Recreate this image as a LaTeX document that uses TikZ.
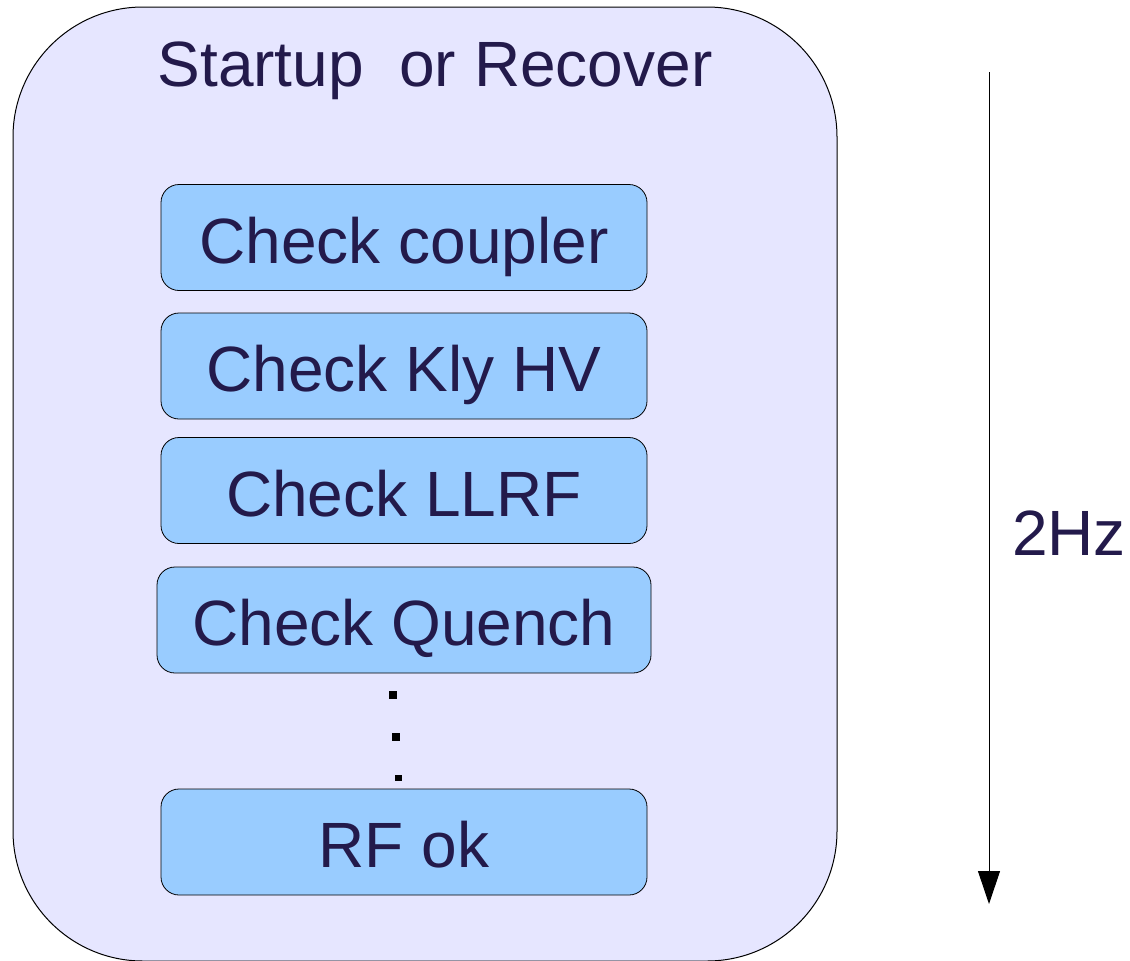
\documentclass[tikz,border=0pt]{standalone}
\usepackage{fontspec}
\setmainfont{Liberation Sans}
\usetikzlibrary{arrows.meta}
\definecolor{outerfill}{HTML}{E6E6FF}
\definecolor{innerfill}{HTML}{99CCFF}
\definecolor{txt}{HTML}{231A4B}
\begin{document}
\begin{tikzpicture}[x=1pt,y=-1pt,
  outerbox/.style={draw=black,line width=1pt,fill=outerfill,rounded corners=130pt,
    minimum width=824pt,minimum height=954pt,inner sep=0pt},
  stepbox/.style={draw=black,line width=0.8pt,fill=innerfill,rounded corners=18pt,
    minimum width=486pt,minimum height=106pt,inner sep=0pt,text=txt,
    font=\fontsize{64}{70}\selectfont,text height=58pt,text depth=7pt},
  bigtext/.style={text=txt,font=\fontsize{64}{70}\selectfont,inner sep=0pt},
  dotmark/.style={fill=black}
]
\useasboundingbox (0,0) rectangle (1130,961);
\node[outerbox] (outer) at (425,484) {};
\node[bigtext,anchor=base] (title) at (435,86) {Startup\ \ or Recover};
\node[stepbox] (coupler) at (404,237.5) {Check coupler};
\node[stepbox] (kly) at (404,366) {Check Kly HV};
\node[stepbox] (llrf) at (404,490.5) {Check LLRF};
\node[stepbox,minimum width=494pt] (quench) at (404,620) {Check Quench};
\node[stepbox] (rfok) at (404,842) {RF ok};
\fill[dotmark] (389,691) rectangle (397,699);
\fill[dotmark] (392,733) rectangle (400,741);
\fill[dotmark] (395,775) rectangle (402,781);
\coordinate (atop) at (989,72);
\coordinate (abot) at (989,904);
\draw[line width=1pt,-{Triangle[width=22pt,length=33pt]}] (atop) -- (abot);
\node[bigtext,anchor=base] (freq) at (1069,555) {2Hz};
\end{tikzpicture}
\end{document}
